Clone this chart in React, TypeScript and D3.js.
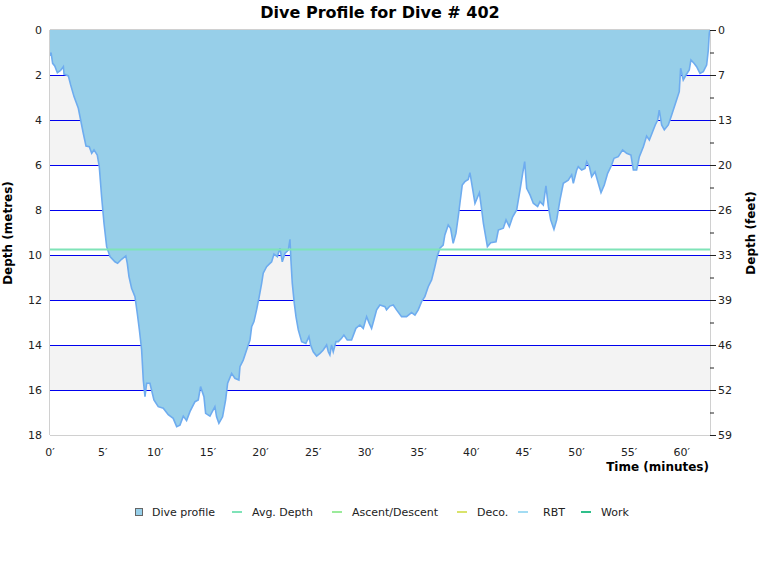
import React from "react";
import * as d3 from "d3";

const title = "Dive Profile for Dive # 402";

// time in minutes, depth in metres
const profileTime = [
  0, 0.1, 0.25, 0.45, 0.7, 1.0, 1.27, 1.33, 1.74, 1.96, 2.28, 2.69, 2.91, 3.16, 3.42, 3.73, 3.96, 4.18, 4.49, 4.68,
  4.9, 5.13, 5.38, 5.7, 6.17, 6.42, 6.8, 7.2, 7.34, 7.5, 7.75, 8.07, 8.29, 8.48, 8.7, 8.86, 9.02, 9.18, 9.49, 9.87,
  10.28, 10.76, 11.23, 11.7, 12.03, 12.34, 12.66, 12.97, 13.29, 13.77, 14.08, 14.3, 14.62, 14.78, 15.19, 15.66, 15.82, 16.04, 16.39, 16.68,
  16.87, 17.25, 17.56, 17.94, 18.04, 18.35, 18.67, 18.99, 19.15, 19.37, 19.62, 19.87, 20.1, 20.25, 20.57, 20.89, 21.05, 21.27, 21.59, 21.84,
  22.06, 22.31, 22.63, 22.79, 22.88, 23.01, 23.2, 23.36, 23.58, 23.9, 24.3, 24.59, 24.75, 25.0, 25.32, 25.64, 25.95, 26.27, 26.43, 26.58,
  26.74, 26.9, 27.16, 27.38, 27.69, 27.91, 28.23, 28.64, 29.05, 29.43, 29.75, 30.07, 30.32, 30.54, 30.76, 31.02, 31.33, 31.81, 31.96, 32.28,
  32.6, 32.91, 33.39, 33.86, 34.34, 34.66, 34.97, 35.29, 35.6, 35.92, 36.24, 36.55, 36.77, 37.03, 37.34, 37.5, 37.82, 38.04, 38.29, 38.55,
  38.77, 38.93, 39.15, 39.4, 39.72, 39.88, 40.1, 40.36, 40.78, 41.0, 41.16, 41.54, 41.85, 42.36, 42.58, 43.05, 43.31, 43.62, 43.94, 44.32,
  44.64, 44.89, 45.08, 45.27, 45.59, 45.9, 46.31, 46.53, 46.85, 47.1, 47.33, 47.55, 47.86, 48.12, 48.43, 48.75, 49.22, 49.54, 49.7, 50.02,
  50.17, 50.49, 50.81, 50.97, 51.22, 51.44, 51.76, 52.07, 52.33, 52.64, 52.96, 53.34, 53.56, 53.97, 54.38, 54.76, 55.17, 55.4, 55.71, 55.97,
  56.35, 56.66, 56.92, 57.23, 57.48, 57.71, 57.86, 58.09, 58.34, 58.72, 59.04, 59.45, 59.76, 59.89, 60.14, 60.4, 60.71, 60.87, 61.16, 61.41,
  61.73, 62.04, 62.36, 62.52, 62.61, 62.68,
];
const profileDepth = [
  1.15, 1.0, 1.48, 1.6, 1.9, 1.8, 1.63, 1.96, 2.04, 2.44, 2.96, 3.48, 4.0, 4.59, 5.16, 5.19, 5.48, 5.33, 5.56, 6.07,
  7.4, 8.6, 9.63, 10.07, 10.3, 10.37, 10.19, 10.04, 10.37, 10.96, 11.48, 11.85, 12.6, 13.3, 14.2, 15.56, 16.3, 15.7, 15.7, 16.44,
  16.74, 16.81, 17.1, 17.26, 17.63, 17.56, 17.16, 17.36, 16.96, 16.52, 16.44, 15.85, 16.3, 17.04, 17.16, 16.74, 17.19, 17.48, 17.19, 16.44,
  15.7, 15.26, 15.48, 15.56, 14.96, 14.67, 14.22, 13.78, 13.19, 12.96, 12.44, 11.85, 11.26, 10.81, 10.52, 10.37, 10.3, 9.96, 10.07, 9.7,
  10.3, 9.93, 9.78, 9.3, 10.22, 11.26, 12.15, 12.74, 13.33, 13.85, 13.93, 13.63, 14.0, 14.3, 14.49, 14.37, 14.22, 14.0, 14.3, 14.44,
  14.0, 14.3, 13.85, 13.85, 13.7, 13.56, 13.78, 13.78, 13.26, 13.11, 13.26, 12.74, 13.04, 13.26, 12.89, 12.44, 12.22, 12.3, 12.44, 12.27,
  12.22, 12.44, 12.74, 12.74, 12.56, 12.67, 12.44, 12.07, 11.85, 11.41, 11.11, 10.52, 10.07, 9.7, 9.56, 9.11, 8.67, 8.81, 9.48, 9.04,
  8.3, 7.7, 6.89, 6.74, 6.64, 6.34, 6.96, 7.7, 7.23, 8.0, 8.59, 9.63, 9.45, 9.41, 8.89, 8.81, 8.44, 8.74, 8.3, 8.0,
  7.11, 6.37, 5.85, 7.04, 7.33, 7.7, 7.85, 7.63, 7.78, 6.93, 7.85, 8.44, 8.86, 8.44, 7.56, 6.81, 6.67, 6.44, 6.81, 6.22,
  6.07, 6.22, 6.15, 5.85, 6.07, 6.52, 6.3, 6.81, 7.23, 6.89, 6.37, 6.0, 5.7, 5.63, 5.33, 5.48, 5.56, 6.22, 6.22, 5.63,
  5.19, 4.71, 4.89, 4.52, 4.22, 4.0, 3.56, 4.22, 4.44, 4.22, 3.78, 3.19, 2.74, 1.7, 2.22, 2.0, 1.78, 1.33, 1.48, 1.63,
  1.93, 1.85, 1.56, 0.89, 0.15, 0,
];

const avgDepth = 9.75;
const depthTicks = [0, 2, 4, 6, 8, 10, 12, 14, 16, 18];
const feetLabels = ["0", "7", "13", "20", "26", "33", "39", "46", "52", "59"];
const minorDepthTicks = [1, 3, 5, 7, 9, 11, 13, 15, 17];
const gridDepths = [2, 4, 6, 8, 10, 12, 14, 16];
const shadedBands = [[2, 6], [10, 12], [14, 16]];
const timeTicks = [0, 5, 10, 15, 20, 25, 30, 35, 40, 45, 50, 55, 60];
const timeMax = 62.68;

const legendNames = ["Dive profile", "Avg. Depth", "Ascent/Descent", "Deco.", "RBT", "Work"];
const legendColors = ["#97cfe9", "#7fe3b8", "#9beb9b", "#d9e36b", "#a3dcf3", "#2fbf8a"];
const legendX = [135, 232, 332, 457, 518, 581];

const W = 760, H = 580;
const L = 50, R = 710, T = 30, B = 435;
const font = "DejaVu Sans, Verdana, sans-serif";

export default function App() {
  const x = d3.scaleLinear().domain([0, timeMax]).range([L, R]);
  const y = d3.scaleLinear().domain([0, 18]).range([T, B]);
  const pts = profileTime.map((t, i) => [t, profileDepth[i]] as [number, number]);
  const area = d3.area<[number, number]>().x((d) => x(d[0])).y0(y(0)).y1((d) => y(d[1]))(pts) || "";
  const line = d3.line<[number, number]>().x((d) => x(d[0])).y((d) => y(d[1]))(pts) || "";

  return (
    <svg width={W} height={H} style={{ position: "absolute", left: 0, top: 0, fontFamily: font }}>
      <rect x={0} y={0} width={W} height={H} fill="#fff" />
      <text x={380} y={18} textAnchor="middle" fontSize={16} fontWeight="bold" fill="#000">{title}</text>
      {shadedBands.map((b, i) => (
        <rect key={i} x={L} y={y(b[0])} width={R - L} height={y(b[1]) - y(b[0])} fill="#f3f3f3" />
      ))}
      {gridDepths.map((d) => (
        <line key={d} x1={L} x2={R} y1={y(d) + 0.5} y2={y(d) + 0.5} stroke="#0000ee" strokeWidth={1} />
      ))}
      <path d={area} fill="#97cfe9" />
      <path d={line} fill="none" stroke="#6eacef" strokeWidth={1.6} />
      <line x1={L} x2={R} y1={y(avgDepth)} y2={y(avgDepth)} stroke="#7fe3b8" strokeWidth={2} />
      <line x1={L} x2={R} y1={T - 0.5} y2={T - 0.5} stroke="#d0d0d0" />
      <line x1={L} x2={R} y1={B + 0.5} y2={B + 0.5} stroke="#d0d0d0" />
      <line x1={L - 0.5} x2={L - 0.5} y1={T} y2={B} stroke="#d0d0d0" />
      <line x1={R + 0.5} x2={R + 0.5} y1={T} y2={B} stroke="#d0d0d0" />
      {depthTicks.map((d) => (
        <text key={d} x={42} y={y(d) + 4} textAnchor="end" fontSize={11} fill="#222">{d}</text>
      ))}
      {depthTicks.map((d, i) => (
        <g key={d}>
          <line x1={R} x2={R + 6} y1={y(d) + 0.5} y2={y(d) + 0.5} stroke="#222" />
          <text x={R + 8} y={y(d) + 4} fontSize={11} fill="#222">{feetLabels[i]}</text>
        </g>
      ))}
      {minorDepthTicks.map((d) => (
        <line key={d} x1={R} x2={R + 4} y1={y(d) + 0.5} y2={y(d) + 0.5} stroke="#222" />
      ))}
      {timeTicks.map((t) => (
        <text key={t} x={x(t)} y={456} textAnchor="middle" fontSize={11} fill="#222">{t + "\u2032"}</text>
      ))}
      <text x={709} y={471} textAnchor="end" fontSize={12} fontWeight="bold" fill="#000">Time (minutes)</text>
      <text transform="translate(12,233) rotate(-90)" textAnchor="middle" fontSize={12} fontWeight="bold" fill="#000">Depth (metres)</text>
      <text transform="translate(755,233) rotate(-90)" textAnchor="middle" fontSize={12} fontWeight="bold" fill="#000">Depth (feet)</text>
      {legendNames.map((n, i) => (
        <g key={n}>
          {i === 0 ? (
            <rect x={legendX[i] + 0.5} y={508.5} width={7} height={7} fill={legendColors[i]} stroke="#666" />
          ) : (
            <line x1={legendX[i]} x2={legendX[i] + 10} y1={512} y2={512} stroke={legendColors[i]} strokeWidth={2} />
          )}
          <text x={legendX[i] + (i === 0 ? 17 : i === 4 ? 25 : 20)} y={516} fontSize={11} fill="#222">{n}</text>
        </g>
      ))}
    </svg>
  );
}
